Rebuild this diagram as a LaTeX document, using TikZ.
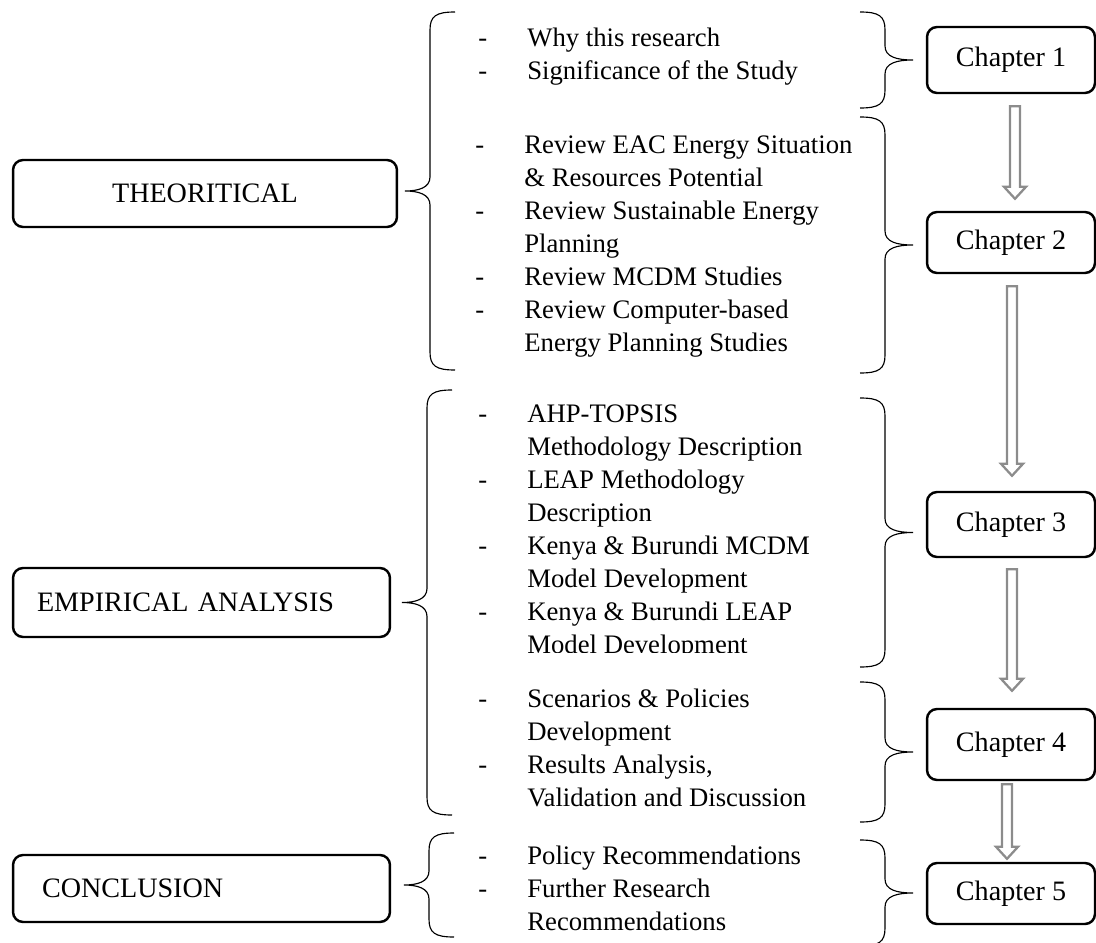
\documentclass[tikz,border=0pt]{standalone}
\usepackage{fontspec}
\setmainfont{Liberation Serif}
\usetikzlibrary{positioning, calc}
\tikzstyle{partbox} = [rectangle, draw, rounded corners=0.2cm, line width=1.4pt, inner sep=0pt, font=\fontsize{16}{19}\selectfont]
\tikzstyle{chapbox} = [partbox, minimum width=3.36cm]
\tikzstyle{items} = [inner sep=0pt, anchor=west, font=\fontsize{15.2}{18.8}\selectfont]
\tikzstyle{brc} = [line width=0.65pt]
\tikzstyle{hollowarrow} = [draw=gray!90, line width=1.3pt, line join=miter]

% left brace: vertical x, top, bottom
\newcommand{\leftbrc}[3]{%
  \draw[brc] ({#1+25},#2) .. controls ({#1+6},#2) and (#1,{#2+4}) .. (#1,{#2+18})
    -- (#1,{(#2+#3)/2-14}) .. controls (#1,{(#2+#3)/2-3}) and ({#1-12},{(#2+#3)/2}) .. ({#1-25},{(#2+#3)/2})
    .. controls ({#1-12},{(#2+#3)/2}) and (#1,{(#2+#3)/2+3}) .. (#1,{(#2+#3)/2+14})
    -- (#1,{#3-18}) .. controls (#1,{#3-4}) and ({#1+6},#3) .. ({#1+25},#3);}
% right brace: vertical x, top, bottom
\newcommand{\rightbrc}[3]{%
  \draw[brc] ({#1-25},#2) .. controls ({#1-6},#2) and (#1,{#2+4}) .. (#1,{#2+18})
    -- (#1,{(#2+#3)/2-14}) .. controls (#1,{(#2+#3)/2-3}) and ({#1+12},{(#2+#3)/2}) .. ({#1+28},{(#2+#3)/2})
    .. controls ({#1+12},{(#2+#3)/2}) and (#1,{(#2+#3)/2+3}) .. (#1,{(#2+#3)/2+14})
    -- (#1,{#3-18}) .. controls (#1,{#3-4}) and ({#1-6},#3) .. ({#1-25},#3);}
% hollow arrow between chapters: from, to, x offset, gap below, gap above
\newcommand{\chaparrow}[5]{%
  \coordinate (top) at ($(#1.south)+(#3,#4)$);
  \coordinate (tip) at ($(#2.north)+(#3,-#5)$);
  \draw[hollowarrow] ($(top)+(-5,0)$) -- ($(tip)+(-5,-12)$) -- ($(tip)+(-11,-12)$) -- (tip)
    -- ($(tip)+(11,-12)$) -- ($(tip)+(5,-12)$) -- ($(top)+(5,0)$) -- cycle;}

\begin{document}
\begin{tikzpicture}[x=0.02cm, y=-0.02cm]
    \useasboundingbox (0,0) rectangle (1096,943);

    % Parts
    \node[partbox, minimum width=7.68cm, minimum height=1.34cm] (theo) at (205,193.5) {THEORITICAL};
    \node[partbox, minimum width=7.54cm, minimum height=1.38cm, inner xsep=0.48cm, text width=6.58cm, align=left] (emp) at (201.5,602.5) {EMPIRICAL ANALYSIS};
    \node[partbox, minimum width=7.54cm, minimum height=1.34cm, inner xsep=0.58cm, text width=6.38cm, align=left] (conc) at (201.5,888.5) {CONCLUSION};

    % Chapters
    \node[chapbox, minimum height=1.32cm] (ch1) at (1011,60) {Chapter 1};
    \node[chapbox, minimum height=1.22cm] (ch2) at (1011,242.5) {Chapter 2};
    \node[chapbox, minimum height=1.30cm] (ch3) at (1011,524.5) {Chapter 3};
    \node[chapbox, minimum height=1.42cm] (ch4) at (1011,744.5) {Chapter 4};
    \node[chapbox, minimum height=1.22cm] (ch5) at (1011,893.5) {Chapter 5};

    % Chapter contents
    \node[items] (why) at (478,56.5) {\begin{tabular}{@{}p{0.98cm}@{}l@{}}
        - & Why this research\\
        - & Significance of the Study
    \end{tabular}};
    \node[items] (review) at (475,246) {\begin{tabular}{@{}p{0.98cm}@{}l@{}}
        - & Review EAC Energy Situation\\
          & \& Resources Potential\\
        - & Review Sustainable Energy\\
          & Planning\\
        - & Review MCDM Studies\\
        - & Review Computer-based\\
          & Energy Planning Studies
    \end{tabular}};
    \begin{scope}
        \clip (300,380) rectangle (900,652);
        \node[items] (method) at (478,531) {\begin{tabular}{@{}p{0.98cm}@{}l@{}}
            - & AHP-TOPSIS\\
              & Methodology Description\\
            - & LEAP Methodology\\
              & Description\\
            - & Kenya \& Burundi MCDM\\
              & Model Development\\
            - & Kenya \& Burundi LEAP\\
              & Model Development
        \end{tabular}};
    \end{scope}
    \node[items] (scen) at (478,750) {\begin{tabular}{@{}p{0.98cm}@{}l@{}}
        - & Scenarios \& Policies\\
          & Development\\
        - & Results Analysis,\\
          & Validation and Discussion
    \end{tabular}};
    \node[items] (policy) at (478,891) {\begin{tabular}{@{}p{0.98cm}@{}l@{}}
        - & Policy Recommendations\\
        - & Further Research\\
          & Recommendations
    \end{tabular}};

    % Braces
    \leftbrc{430}{12}{370}
    \leftbrc{427}{390}{815}
    \leftbrc{429}{833}{937}
    \rightbrc{885}{12}{108}
    \rightbrc{885}{117}{373}
    \rightbrc{885}{398}{667}
    \rightbrc{885}{682}{822}
    \rightbrc{885}{840}{946}

    % Arrows
    \chaparrow{ch1}{ch2}{4}{12}{12}
    \chaparrow{ch2}{ch3}{1}{12}{15}
    \chaparrow{ch3}{ch4}{1}{11}{17}
    \chaparrow{ch4}{ch5}{-4}{3}{3}
\end{tikzpicture}
\end{document}
